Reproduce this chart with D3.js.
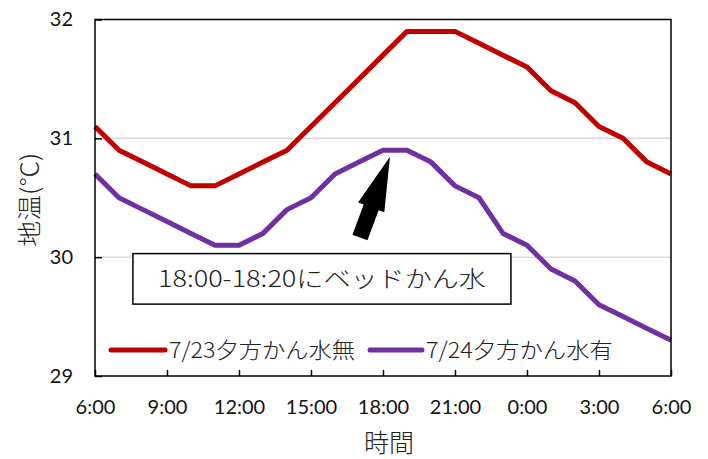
<!DOCTYPE html>
<html>
<head>
<meta charset="utf-8">
<script src="https://cdn.jsdelivr.net/npm/d3@7"></script>
<style>
  html, body { margin: 0; padding: 0; background: #fff; }
  svg { display: block; }
</style>
</head>
<body>
<svg id="chart" width="708" height="459"></svg>
<script>
// Hourly soil temperature, 6:00 to 6:00 next morning
const hours = ["6:00","7:00","8:00","9:00","10:00","11:00","12:00","13:00","14:00","15:00","16:00","17:00",
               "18:00","19:00","20:00","21:00","22:00","23:00","0:00","1:00","2:00","3:00","4:00","5:00","6:00"];
const noWater   = [31.1,30.9,30.8,30.7,30.6,30.6,30.7,30.8,30.9,31.1,31.3,31.5,31.7,31.9,31.9,31.9,31.8,31.7,31.6,31.4,31.3,31.1,31.0,30.8,30.7];
const withWater = [30.7,30.5,30.4,30.3,30.2,30.1,30.1,30.2,30.4,30.5,30.7,30.8,30.9,30.9,30.8,30.6,30.5,30.2,30.1,29.9,29.8,29.6,29.5,29.4,29.3];
const seriesNames = ["7/23夕方かん水無", "7/24夕方かん水有"];
const seriesColors = ["#C00000", "#7030A0"];
const yTicks = [29, 30, 31, 32];
const xTickIdx = [0, 3, 6, 9, 12, 15, 18, 21, 24];
const yTitle = "地温(℃)";
const xTitle = "時間";
const note = "18:00-18:20にベッドかん水";
// note box corners (hour index, °C) and arrow tail/tip (hour index, °C)
const noteBox = { x0: 1.58, x1: 17.33, y0: 30.03, y1: 29.605 };
const arrow = { tail: [11.04, 30.165], tip: [12.29, 30.845] };

const svg = d3.select("#chart");
const m = { left: 95, right: 671, top: 19.5, bottom: 376 };

const x = d3.scaleLinear().domain([0, hours.length - 1]).range([m.left, m.right]);
const y = d3.scaleLinear().domain([29, 32]).range([m.bottom, m.top]);

const tickFont = "Lato, 'Open Sans', sans-serif";
const jpFont = "'Noto Sans CJK JP', 'Noto Sans CJK SC', sans-serif";

// gridlines
svg.append("g")
  .selectAll("line")
  .data(yTicks.filter(v => v > 29 && v < 32))
  .join("line")
  .attr("x1", m.left).attr("x2", m.right)
  .attr("y1", d => y(d)).attr("y2", d => y(d))
  .attr("stroke", "#D9D9D9").attr("stroke-width", 1.5);

// series lines
const line = d3.line().x((d, i) => x(i)).y(d => y(d));
[noWater, withWater].forEach((vals, k) => {
  svg.append("path")
    .datum(vals)
    .attr("d", line)
    .attr("fill", "none")
    .attr("stroke", seriesColors[k])
    .attr("stroke-width", 5)
    .attr("stroke-linejoin", "round");
});

// y axis
const yAxis = svg.append("g")
  .attr("transform", `translate(${m.left},0)`)
  .call(d3.axisLeft(y).tickValues(yTicks).tickFormat(d3.format("d"))
        .tickSizeInner(-7).tickSizeOuter(0).tickPadding(22));
yAxis.select(".domain").remove();
yAxis.selectAll("line").attr("stroke", "#000").attr("stroke-width", 1.5);
yAxis.selectAll("text").attr("font-family", tickFont).attr("font-size", 20).attr("fill", "#111");

// x axis
const xAxis = svg.append("g")
  .attr("transform", `translate(0,${m.bottom})`)
  .call(d3.axisBottom(x).tickValues(xTickIdx).tickFormat(i => hours[i])
        .tickSizeInner(-6).tickSizeOuter(0).tickPadding(24));
xAxis.select(".domain").remove();
xAxis.selectAll("line").attr("stroke", "#000").attr("stroke-width", 1.5);
xAxis.selectAll("text").attr("font-family", tickFont).attr("font-size", 20).attr("fill", "#111");

// plot frame
svg.append("rect")
  .attr("x", m.left).attr("y", m.top)
  .attr("width", m.right - m.left).attr("height", m.bottom - m.top)
  .attr("fill", "none").attr("stroke", "#000").attr("stroke-width", 1.5);

// axis titles
svg.append("text")
  .attr("transform", `translate(38,${(m.top + m.bottom) / 2 + 2}) rotate(-90)`)
  .attr("text-anchor", "middle")
  .attr("font-family", jpFont).attr("font-size", 24).attr("font-weight", 300).attr("fill", "#222")
  .attr("textLength", 94).attr("lengthAdjust", "spacingAndGlyphs")
  .text(yTitle);
svg.append("text")
  .attr("x", (m.left + m.right) / 2 + 6).attr("y", 452)
  .attr("text-anchor", "middle")
  .attr("font-family", jpFont).attr("font-size", 25).attr("font-weight", 300).attr("fill", "#222")
  .text(xTitle);

// note box
svg.append("rect")
  .attr("x", x(noteBox.x0)).attr("y", y(noteBox.y0))
  .attr("width", x(noteBox.x1) - x(noteBox.x0)).attr("height", y(noteBox.y1) - y(noteBox.y0))
  .attr("fill", "#fff").attr("stroke", "#000").attr("stroke-width", 1.5);
svg.append("text")
  .attr("x", (x(noteBox.x0) + x(noteBox.x1)) / 2)
  .attr("y", (y(noteBox.y0) + y(noteBox.y1)) / 2 + 8)
  .attr("text-anchor", "middle")
  .attr("font-family", jpFont).attr("font-size", 23).attr("font-weight", 300).attr("fill", "#222")
  .attr("textLength", 328).attr("lengthAdjust", "spacingAndGlyphs")
  .text(note);

// block arrow pointing at the evening peak
{
  const [tx, ty] = [x(arrow.tip[0]), y(arrow.tip[1])];
  const [sx, sy] = [x(arrow.tail[0]), y(arrow.tail[1])];
  const len = Math.hypot(tx - sx, ty - sy);
  const ux = (tx - sx) / len, uy = (ty - sy) / len;
  const nx = -uy, ny = ux;
  const headLen = 54, headW = 28, shaftW = 16;
  const bx = tx - ux * headLen, by = ty - uy * headLen;
  const pts = [
    [tx, ty],
    [bx + nx * headW / 2, by + ny * headW / 2],
    [bx + nx * shaftW / 2, by + ny * shaftW / 2],
    [sx + nx * shaftW / 2, sy + ny * shaftW / 2],
    [sx - nx * shaftW / 2, sy - ny * shaftW / 2],
    [bx - nx * shaftW / 2, by - ny * shaftW / 2],
    [bx - nx * headW / 2, by - ny * headW / 2]
  ];
  svg.append("polygon")
    .attr("points", pts.map(p => p.join(",")).join(" "))
    .attr("fill", "#000");
}

// legend
const legendY = 350;
const legendItems = [
  { lx0: 111, lx1: 165, tx: 169, tw: 186 },
  { lx0: 370, lx1: 422, tx: 426, tw: 187 }
];
legendItems.forEach((it, k) => {
  svg.append("line")
    .attr("x1", it.lx0).attr("x2", it.lx1)
    .attr("y1", legendY).attr("y2", legendY)
    .attr("stroke", seriesColors[k]).attr("stroke-width", 5).attr("stroke-linecap", "round");
  svg.append("text")
    .attr("x", it.tx).attr("y", legendY + 8)
    .attr("font-family", jpFont).attr("font-size", 22).attr("font-weight", 300).attr("fill", "#222")
    .attr("textLength", it.tw).attr("lengthAdjust", "spacingAndGlyphs")
    .text(seriesNames[k]);
});
</script>
</body>
</html>
